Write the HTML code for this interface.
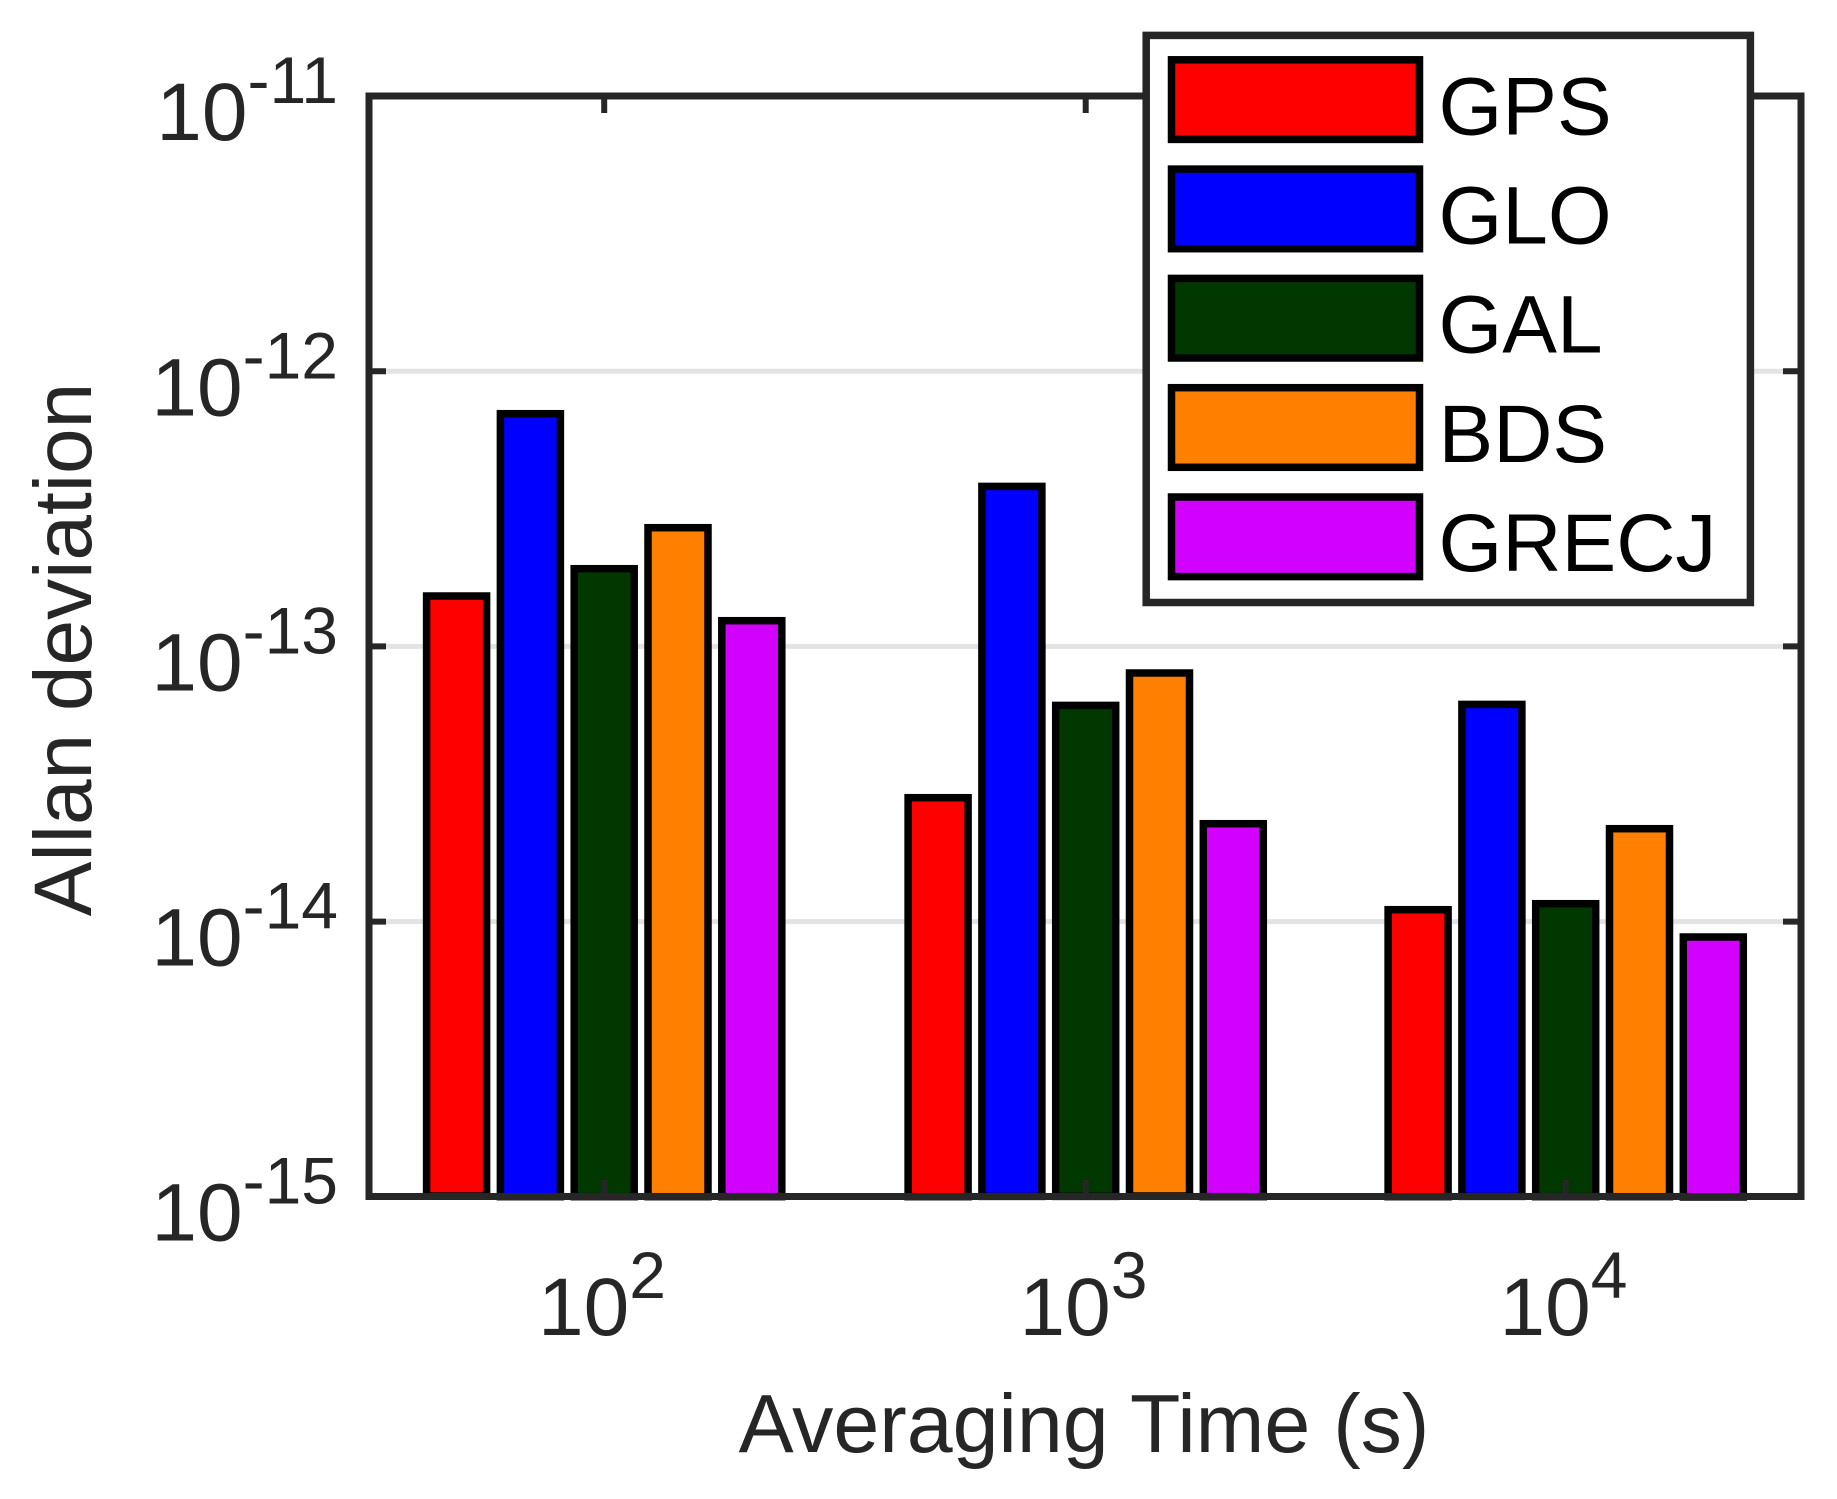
<!DOCTYPE html>
<html>
<head>
<meta charset="utf-8">
<style>
  html,body{margin:0;padding:0;background:#fff;}
  svg{display:block;}
  text{font-family:"Liberation Sans", Arial, sans-serif;}
</style>
</head>
<body>
<svg width="1837" height="1499" viewBox="0 0 1837 1499" xmlns="http://www.w3.org/2000/svg">
  <rect x="0" y="0" width="1837" height="1499" fill="#ffffff"/>

  <!-- grid lines -->
  <g stroke="#e3e3e3" stroke-width="5">
    <line x1="369" y1="371.3" x2="1800" y2="371.3"/>
    <line x1="369" y1="646.4" x2="1800" y2="646.4"/>
    <line x1="369" y1="921.6" x2="1800" y2="921.6"/>
  </g>

  <!-- bars -->
  <g stroke="#000" stroke-width="7.5">
    <!-- group 1 -->
    <rect x="426.6" y="596.0" width="60" height="600" fill="#ff0000"/>
    <rect x="500.4" y="413.7" width="60" height="783" fill="#0000ff"/>
    <rect x="574.2" y="568.7" width="60" height="628" fill="#003800"/>
    <rect x="648.0" y="527.7" width="60" height="669" fill="#ff8000"/>
    <rect x="721.8" y="620.7" width="60" height="576" fill="#d200ff"/>
    <!-- group 2 -->
    <rect x="908.1" y="797.7" width="60" height="399" fill="#ff0000"/>
    <rect x="981.9" y="486.4" width="60" height="710" fill="#0000ff"/>
    <rect x="1055.7" y="705.4" width="60" height="491" fill="#003800"/>
    <rect x="1129.5" y="673.0" width="60" height="523" fill="#ff8000"/>
    <rect x="1203.3" y="823.7" width="60" height="373" fill="#d200ff"/>
    <!-- group 3 -->
    <rect x="1388.1" y="909.7" width="60" height="287" fill="#ff0000"/>
    <rect x="1461.9" y="704.4" width="60" height="492" fill="#0000ff"/>
    <rect x="1535.7" y="903.7" width="60" height="293" fill="#003800"/>
    <rect x="1609.5" y="828.7" width="60" height="368" fill="#ff8000"/>
    <rect x="1683.3" y="937.0" width="60" height="260" fill="#d200ff"/>
  </g>

  <!-- ticks -->
  <g stroke="#262626" stroke-width="6">
    <line x1="369" y1="371.3" x2="386" y2="371.3"/>
    <line x1="369" y1="646.4" x2="386" y2="646.4"/>
    <line x1="369" y1="921.6" x2="386" y2="921.6"/>
    <line x1="1800" y1="371.3" x2="1783" y2="371.3"/>
    <line x1="1800" y1="646.4" x2="1783" y2="646.4"/>
    <line x1="1800" y1="921.6" x2="1783" y2="921.6"/>
    <line x1="604.2" y1="1196.5" x2="604.2" y2="1180"/>
    <line x1="1085.7" y1="1196.5" x2="1085.7" y2="1180"/>
    <line x1="1565.7" y1="1196.5" x2="1565.7" y2="1180"/>
    <line x1="604.2" y1="96" x2="604.2" y2="113"/>
    <line x1="1085.7" y1="96" x2="1085.7" y2="113"/>
    <line x1="1565.7" y1="96" x2="1565.7" y2="113"/>
  </g>

  <!-- axes box -->
  <rect x="369" y="96" width="1432" height="1100.5" fill="none" stroke="#262626" stroke-width="7"/>

  <!-- y tick labels -->
  <g fill="#262626" font-size="82" text-anchor="end">
    <text x="338" y="140">10<tspan font-size="66" dy="-37">-11</tspan></text>
    <text x="338" y="415.3">10<tspan font-size="66" dy="-37">-12</tspan></text>
    <text x="338" y="690.4">10<tspan font-size="66" dy="-37">-13</tspan></text>
    <text x="338" y="965.6">10<tspan font-size="66" dy="-37">-14</tspan></text>
    <text x="338" y="1240.7">10<tspan font-size="66" dy="-37">-15</tspan></text>
  </g>

  <!-- x tick labels -->
  <g fill="#262626" font-size="82" text-anchor="middle">
    <text x="602" y="1335">10<tspan font-size="66" dy="-37">2</tspan></text>
    <text x="1083.5" y="1335">10<tspan font-size="66" dy="-37">3</tspan></text>
    <text x="1563.5" y="1335">10<tspan font-size="66" dy="-37">4</tspan></text>
  </g>

  <!-- axis labels -->
  <text x="1084" y="1452" fill="#262626" font-size="82.5" text-anchor="middle">Averaging Time (s)</text>
  <text transform="translate(91,649.5) rotate(-90)" fill="#262626" font-size="82" text-anchor="middle">Allan deviation</text>

  <!-- legend -->
  <rect x="1146.2" y="35.4" width="604.2" height="567.1" fill="#ffffff" stroke="#262626" stroke-width="7.5"/>
  <g stroke="#000" stroke-width="7.5">
    <rect x="1171.5" y="59.8" width="248" height="79.6" fill="#ff0000"/>
    <rect x="1171.5" y="169.1" width="248" height="79.6" fill="#0000ff"/>
    <rect x="1171.5" y="278.4" width="248" height="79.6" fill="#003800"/>
    <rect x="1171.5" y="387.7" width="248" height="79.6" fill="#ff8000"/>
    <rect x="1171.5" y="497.0" width="248" height="79.6" fill="#d200ff"/>
  </g>
  <g fill="#000" font-size="82">
    <text x="1438.5" y="134.3">GPS</text>
    <text x="1438.5" y="243.3">GLO</text>
    <text x="1438.5" y="352.6">GAL</text>
    <text x="1438.5" y="461.9">BDS</text>
    <text x="1438.5" y="571.2">GRECJ</text>
  </g>
</svg>
</body>
</html>
